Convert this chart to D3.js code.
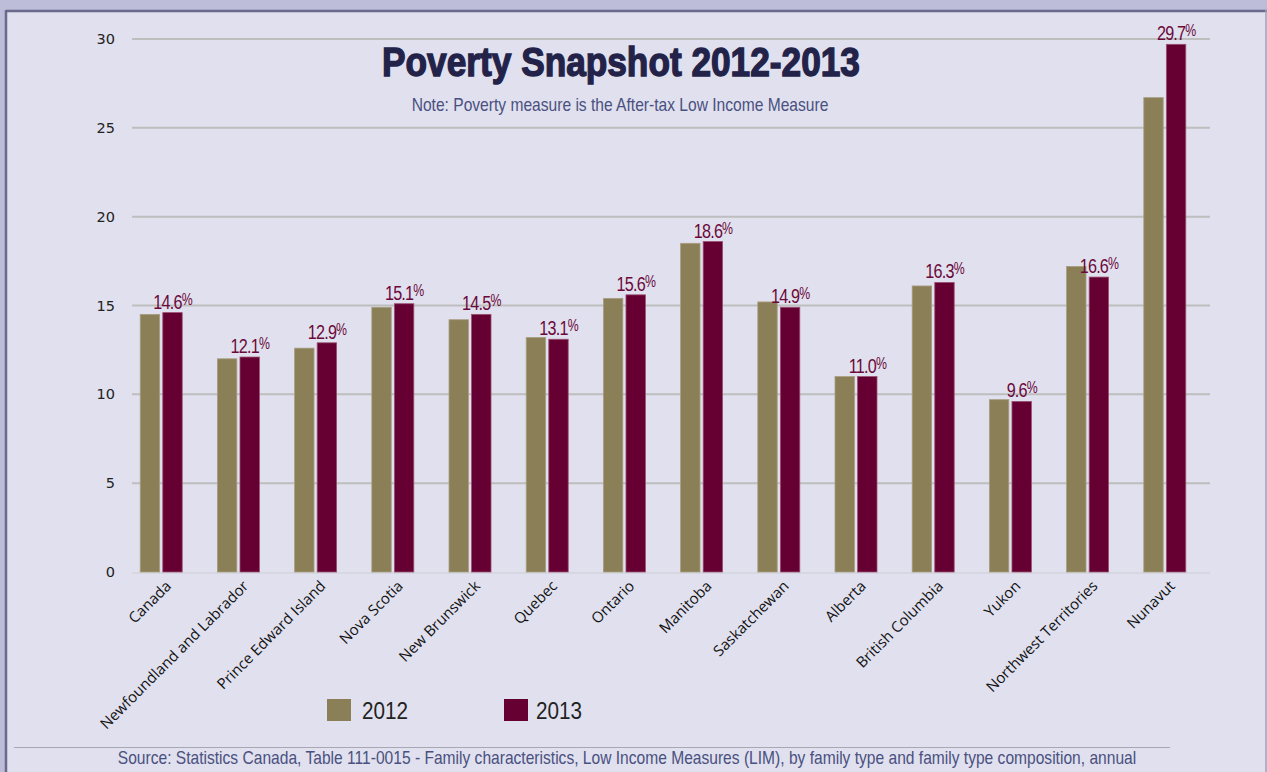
<!DOCTYPE html>
<html><head><meta charset="utf-8">
<script src="https://cdn.jsdelivr.net/npm/d3@7/dist/d3.min.js"></script>
<style>
body{margin:0;background:#bdbdd9;}
svg{display:block;}
</style></head><body>
<svg id="c" width="1267" height="772"></svg>
<script>
const categories = ["Canada","Newfoundland and Labrador","Prince Edward Island","Nova Scotia","New Brunswick","Quebec","Ontario","Manitoba","Saskatchewan","Alberta","British Columbia","Yukon","Northwest Territories","Nunavut"];
const values2012 = [14.5,12.0,12.6,14.9,14.2,13.2,15.4,18.5,15.2,11.0,16.1,9.7,17.2,26.7];
const values2013 = [14.6,12.1,12.9,15.1,14.5,13.1,15.6,18.6,14.9,11.0,16.3,9.6,16.6,29.7];
const seriesNames = ["2012","2013"];
const yTicks = [0,5,10,15,20,25,30];

(function(){
const colors = {"2012":"#8b7f58","2013":"#660033"};
const svg = d3.select("#c");
const NARROW = "Liberation Sans Narrow, Liberation Sans, Arial";

function condensed(parent, x, y, str, opts){
  const g = parent.append("g").attr("transform",`translate(${x},${y})`);
  const t = g.append("text").attr("x",0).attr("y",0).attr("text-anchor",opts.anchor||"middle")
    .attr("font-family",NARROW).attr("font-size",opts.size).attr("fill",opts.fill)
    .attr("font-weight",opts.weight||"normal").text(str);
  if(opts.stroke) t.attr("stroke",opts.fill).attr("stroke-width",opts.stroke);
  const w = t.node().getComputedTextLength();
  const s = opts.width ? opts.width/w : opts.factor;
  t.attr("transform",`scale(${s},1)`);
  return t;
}

// panel
svg.append("rect").attr("x",5).attr("y",10).attr("width",1262).attr("height",772).attr("fill","#e0e0ee");
svg.append("line").attr("x1",6).attr("x2",1267).attr("y1",11).attr("y2",11).attr("stroke","#6a6a8c").attr("stroke-width",2.5);
svg.append("line").attr("x1",6).attr("x2",6).attr("y1",10).attr("y2",772).attr("stroke","#6a6a8c").attr("stroke-width",2.5);
svg.append("line").attr("x1",1266).attr("x2",1266).attr("y1",10).attr("y2",772).attr("stroke","#a0a0bc").attr("stroke-width",1.5);

const pl=132,pr=1210,pt=39,pb=572;
const x = d3.scaleBand().domain(categories).range([124,1202]).paddingInner(0.456).paddingOuter(0.21);
const x1 = d3.scaleBand().domain(seriesNames).range([0,x.bandwidth()]).paddingInner(0.14);
const y = d3.scaleLinear().domain([0,30]).range([pb,pt]);

// gridlines
svg.append("g").selectAll("line").data(yTicks.filter(d=>d>0)).join("line")
  .attr("x1",pl).attr("x2",pr).attr("y1",d=>y(d)).attr("y2",d=>y(d))
  .attr("stroke","#bebebe").attr("stroke-width",2);
svg.append("line").attr("x1",pl).attr("x2",pr).attr("y1",pb+1).attr("y2",pb+1).attr("stroke","#d4d4dc").attr("stroke-width",1.5);

// y axis
const yAxis = d3.axisLeft(y).tickValues(yTicks).tickSize(0).tickPadding(0);
const ga = svg.append("g").attr("transform",`translate(115,0)`).call(yAxis);
ga.select(".domain").remove();
ga.selectAll("text").attr("font-family","DejaVu Sans").attr("font-size",14.5).attr("fill","#222").attr("text-anchor","end").attr("dy","0.32em");

// bars
const data = categories.map((c,i)=>({c, v:{"2012":values2012[i],"2013":values2013[i]}}));
const groups = svg.append("g").selectAll("g").data(data).join("g").attr("transform",d=>`translate(${x(d.c)},0)`);
groups.selectAll("rect").data(d=>seriesNames.map(s=>({s,v:d.v[s]}))).join("rect")
  .attr("x",d=>x1(d.s)).attr("width",x1.bandwidth())
  .attr("y",d=>y(d.v)).attr("height",d=>pb-y(d.v))
  .attr("fill",d=>colors[d.s]).attr("stroke",d=>d.s==="2012"?"#a89f80":"#9a5070").attr("stroke-width",0.8);

// value labels for 2013
groups.each(function(d){
  const g = d3.select(this).append("g")
    .attr("transform",`translate(${x1("2013")+x1.bandwidth()/2+0.5},${y(d.v["2013"])-4})`);
  const t = g.append("text").attr("text-anchor","middle").attr("font-family",NARROW)
    .attr("font-size",21).attr("letter-spacing",-1).attr("fill","#6b0a3a").attr("transform","scale(0.77,1)");
  t.append("tspan").text(d.v["2013"].toFixed(1));
  t.append("tspan").attr("font-size",16).attr("dy",-4).attr("letter-spacing",0).text("%");
});

// x axis labels
svg.append("g").selectAll("text").data(categories).join("text")
  .attr("transform",d=>`translate(${x(d)+x.bandwidth()/2+11},${pb+15}) rotate(-45)`)
  .attr("text-anchor","end").attr("font-family","Open Sans").attr("font-size",15).attr("fill","#111")
  .text(d=>d);

// title
condensed(svg, 621, 76, "Poverty Snapshot 2012-2013", {size:41, weight:"bold", fill:"#23234a", stroke:1.4, width:478});
condensed(svg, 620, 111, "Note: Poverty measure is the After-tax Low Income Measure", {size:17.5, fill:"#4a5080", width:417});

// legend
const lg = svg.append("g").selectAll("g").data(seriesNames).join("g")
  .attr("transform",(d,i)=>`translate(${327+i*177},699)`);
lg.append("rect").attr("width",24).attr("height",22).attr("fill",d=>colors[d]);
lg.each(function(d,i){ condensed(d3.select(this), i===0?35:32, 20, d, {size:24, fill:"#222", anchor:"start", width:46}); });

// source
svg.append("line").attr("x1",14).attr("x2",1170).attr("y1",747.5).attr("y2",747.5).attr("stroke","#a8a8b4").attr("stroke-width",1);
condensed(svg, 627, 764, "Source: Statistics Canada, Table 111-0015 - Family characteristics, Low Income Measures (LIM), by family type and family type composition, annual", {size:18, fill:"#4a5080", width:1019});
})();
</script></body></html>
